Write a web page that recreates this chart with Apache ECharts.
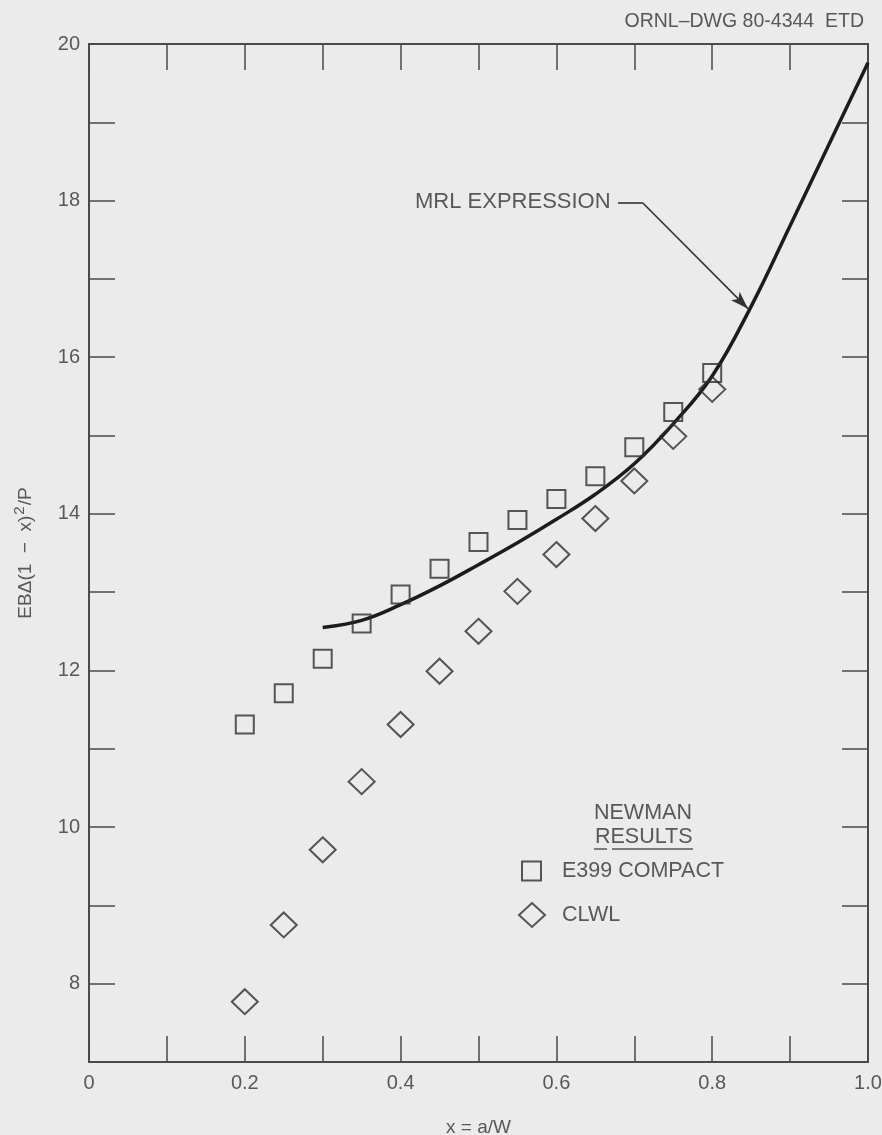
<!DOCTYPE html>
<html>
<head>
<meta charset="utf-8">
<script src="https://cdn.jsdelivr.net/npm/echarts@6/dist/echarts.min.js"></script>
<style>
html,body{margin:0;padding:0;background:#ebebeb;}
#chart{width:882px;height:1135px;}
</style>
</head>
<body>
<div id="chart"></div>
<script>
// ---- data ----
const xPoints = [0.20, 0.25, 0.30, 0.35, 0.40, 0.45, 0.50, 0.55, 0.60, 0.65, 0.70, 0.75, 0.80];
const e399Compact = [11.31, 11.71, 12.15, 12.60, 12.97, 13.30, 13.64, 13.92, 14.19, 14.48, 14.85, 15.30, 15.80];
const clwl = [7.77, 8.75, 9.71, 10.58, 11.31, 11.99, 12.50, 13.01, 13.48, 13.94, 14.42, 14.99, 15.59];
const mrlX = [0.30, 0.35, 0.40, 0.45, 0.50, 0.55, 0.60, 0.65, 0.70, 0.75, 0.80, 0.85, 0.90, 0.95, 1.00];
const mrlY = [12.55, 12.64, 12.84, 13.08, 13.35, 13.63, 13.93, 14.25, 14.64, 15.15, 15.76, 16.65, 17.68, 18.72, 19.76];
const xTickLabels = ['0', '0.2', '0.4', '0.6', '0.8', '1.0'];
const yTickLabels = ['8', '10', '12', '14', '16', '18', '20'];
const seriesNames = ['MRL EXPRESSION', 'E399 COMPACT', 'CLWL'];
// annotation anchor points (data coordinates)
const annoStart = [0.679, 17.97];
const annoBend = [0.711, 17.97];
const annoTip = [0.846, 16.62];

const FONT = 'Liberation Sans, Arial, Helvetica, sans-serif';
const TXT = '#585858';
const AX = '#4a4a4a';

const zip = (xs, ys) => xs.map((x, i) => [x, ys[i]]);

const chart = echarts.init(document.getElementById('chart'), null, {renderer: 'canvas'});

const xLabelFmt = v => {
  const k = Math.round(v * 10);
  if (k % 2 !== 0) return '';
  return xTickLabels[k / 2];
};
const yLabelFmt = v => {
  const s = String(Math.round(v));
  return yTickLabels.indexOf(s) >= 0 ? s : '';
};

const baseAxisLine = {show: true, onZero: false, lineStyle: {color: AX, width: 2}};
const baseTick = {show: true, inside: true, length: 26, lineStyle: {color: AX, width: 1.5}};

const option = {
  backgroundColor: '#ebebeb',
  animation: false,
  title: {
    text: 'ORNL\u2013DWG 80-4344  ETD',
    right: 13, top: 7,
    textStyle: {fontFamily: FONT, fontSize: 19.5, fontWeight: 'normal', color: TXT}
  },
  grid: {left: 89, right: 14, top: 44, bottom: 73, containLabel: false, outerBoundsMode: 'none'},
  xAxis: [{
    type: 'value', min: 0, max: 1, interval: 0.1, position: 'bottom',
    name: 'x = a/W', nameLocation: 'middle', nameGap: 56,
    nameTextStyle: {fontFamily: FONT, fontSize: 19, color: TXT},
    axisLine: baseAxisLine, axisTick: baseTick, splitLine: {show: false},
    axisLabel: {formatter: xLabelFmt, margin: 11, fontFamily: FONT, fontSize: 20, color: TXT}
  }, {
    type: 'value', min: 0, max: 1, interval: 0.1, position: 'top',
    axisLine: baseAxisLine, axisTick: baseTick, splitLine: {show: false},
    axisLabel: {show: false}
  }],
  yAxis: [{
    type: 'value', min: 7, max: 20, interval: 1, position: 'left',
    name: '{a|EB\u0394(1  \u2212  x)}{s|2}{a|/P}', nameLocation: 'middle', nameGap: 50,
    nameTextStyle: {
      fontFamily: FONT, color: TXT,
      rich: {
        a: {fontFamily: FONT, fontSize: 19, color: TXT},
        s: {fontFamily: FONT, fontSize: 15, color: TXT, padding: [0, 1, 12, 1]}
      }
    },
    axisLine: baseAxisLine, axisTick: baseTick, splitLine: {show: false},
    axisLabel: {formatter: yLabelFmt, margin: 9, fontFamily: FONT, fontSize: 20, color: TXT}
  }, {
    type: 'value', min: 7, max: 20, interval: 1, position: 'right',
    axisLine: baseAxisLine, axisTick: baseTick, splitLine: {show: false},
    axisLabel: {show: false}
  }],
  legend: [{
    data: [{name: seriesNames[1], icon: 'rect'}],
    orient: 'vertical', left: 521, top: 860, padding: 0,
    itemWidth: 19, itemHeight: 19,
    selectedMode: false,
    textStyle: {fontFamily: FONT, fontSize: 21.5, color: TXT, padding: [0, 0, 0, 16]}
  }, {
    data: [{name: seriesNames[2], icon: 'diamond'}],
    orient: 'vertical', left: 518, top: 902, padding: 0,
    itemWidth: 26, itemHeight: 24,
    selectedMode: false,
    textStyle: {fontFamily: FONT, fontSize: 21.5, color: TXT, padding: [0, 0, 0, 12]}
  }],
  graphic: [
    {type: 'text', left: 594, top: 802, style: {text: 'NEWMAN', font: '21.5px ' + FONT, fill: TXT}},
    {type: 'text', left: 595, top: 826, style: {text: 'RESULTS', font: '21.5px ' + FONT, fill: TXT}},
    {type: 'line', shape: {x1: 594, y1: 849, x2: 607, y2: 849}, style: {stroke: TXT, lineWidth: 1.5}},
    {type: 'line', shape: {x1: 612, y1: 849, x2: 693, y2: 849}, style: {stroke: TXT, lineWidth: 1.5}},
    {type: 'text', left: 415, top: 191, style: {text: 'MRL EXPRESSION', font: '22px ' + FONT, fill: TXT}}
  ],
  series: [{
    name: seriesNames[0],
    type: 'line',
    data: zip(mrlX, mrlY),
    smooth: 0.4,
    showSymbol: false,
    lineStyle: {color: '#1c1c1c', width: 3.5},
    xAxisIndex: 0, yAxisIndex: 0,
    z: 3,
    markLine: {
      silent: true,
      symbol: ['none', 'none'],
      label: {show: false},
      lineStyle: {color: '#333', width: 1.6, type: 'solid'},
      data: [
        [{coord: annoStart}, {coord: annoBend}],
        [{coord: annoBend}, {coord: annoTip, symbol: 'arrow', symbolSize: [9, 18]}]
      ]
    }
  }, {
    name: seriesNames[1],
    type: 'scatter',
    data: zip(xPoints, e399Compact),
    symbol: 'rect', symbolSize: 18,
    itemStyle: {color: 'rgba(0,0,0,0)', borderColor: '#2e2e2e', borderWidth: 2},
    z: 4
  }, {
    name: seriesNames[2],
    type: 'scatter',
    data: zip(xPoints, clwl),
    symbol: 'diamond', symbolSize: [26, 25],
    itemStyle: {color: 'rgba(0,0,0,0)', borderColor: '#2e2e2e', borderWidth: 2},
    z: 4
  }]
};
chart.setOption(option);
</script>
</body>
</html>
